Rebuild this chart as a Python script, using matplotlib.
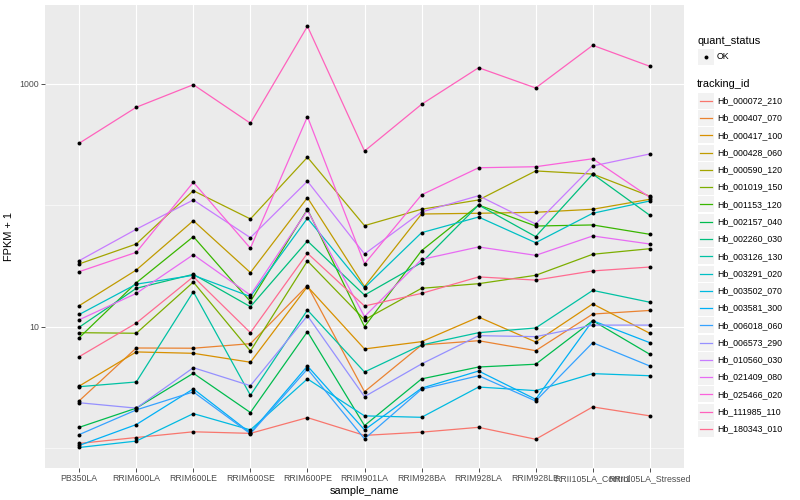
import matplotlib
matplotlib.use("Agg")
import matplotlib.pyplot as plt
from matplotlib.patches import Rectangle
import numpy as np

plt.rcParams['font.family'] = ['Liberation Sans', 'DejaVu Sans']

samples = ["PB350LA", "RRIM600LA", "RRIM600LE", "RRIM600SE", "RRIM600PE",
           "RRIM901LA", "RRIM928BA", "RRIM928LA", "RRIM928LE",
           "RRII105LA_Control", "RRII105LA_Stressed"]

tracking_ids = ["Hb_000072_210", "Hb_000407_070", "Hb_000417_100", "Hb_000428_060",
                "Hb_000590_120", "Hb_001019_150", "Hb_001153_120", "Hb_002157_040",
                "Hb_002260_030", "Hb_003126_130", "Hb_003291_020", "Hb_003502_070",
                "Hb_003581_300", "Hb_006018_060", "Hb_006573_290", "Hb_010560_030",
                "Hb_021409_080", "Hb_025466_020", "Hb_111985_110", "Hb_180343_010"]

# FPKM + 1 per sample (order of `samples`)
Hb_000072_210 = [1.09, 1.22, 1.36, 1.32, 1.78, 1.27, 1.35, 1.48, 1.18, 2.18, 1.84]
Hb_000407_070 = [2.45, 6.67, 6.64, 7.24, 21.8, 2.91, 7.06, 7.66, 6.34, 12.7, 13.6]
Hb_000417_100 = [3.24, 6.19, 6.03, 5.09, 21.4, 6.55, 7.52, 12.0, 7.48, 15.4, 8.82]
Hb_000428_060 = [14.9, 29.3, 74.7, 27.9, 115.6, 21.4, 84.8, 86.0, 87.6, 92.8, 112.1]
Hb_000590_120 = [32.9, 48.0, 132, 77.2, 249, 68.0, 92.8, 110.7, 192, 181, 119]
Hb_001019_150 = [8.92, 8.82, 23.3, 6.30, 34.8, 11.4, 20.7, 22.6, 26.5, 39.5, 43.9]
Hb_001153_120 = [8.11, 23.0, 55.2, 16.1, 92.8, 10.0, 42.3, 100.6, 67.5, 68.9, 57.7]
Hb_002157_040 = [1.48, 2.13, 4.13, 1.96, 9.09, 1.53, 3.71, 4.65, 4.90, 11.2, 5.92]
Hb_002260_030 = [9.9, 20.7, 27.0, 14.6, 50.8, 18.2, 33.7, 100.6, 55.2, 181, 82.8]
Hb_003126_130 = [3.20, 3.50, 19.4, 2.72, 13.7, 4.23, 7.06, 8.92, 9.75, 19.9, 15.9]
Hb_003291_020 = [12.6, 22.4, 26.5, 17.7, 78.2, 20.9, 59.5, 80.1, 49.2, 86.0, 108.6]
Hb_003502_070 = [1.01, 1.14, 1.92, 1.41, 3.71, 1.84, 1.79, 3.18, 2.97, 4.10, 3.94]
Hb_003581_300 = [1.05, 1.56, 3.07, 1.33, 4.74, 1.41, 3.11, 4.31, 2.52, 11.2, 7.38]
Hb_006018_060 = [1.29, 2.06, 2.90, 1.31, 4.48, 1.19, 3.05, 3.94, 2.44, 7.38, 4.74]
Hb_006573_290 = [2.36, 2.13, 4.59, 3.26, 12.3, 2.65, 4.93, 8.43, 8.27, 10.3, 10.3]
Hb_010560_030 = [35.0, 63.5, 110.7, 54.1, 158, 39.7, 88.1, 120, 70.2, 211, 265]
Hb_021409_080 = [11.4, 18.8, 39.2, 18.2, 91.0, 12.1, 35.8, 45.4, 38.7, 55.9, 48.0]
Hb_025466_020 = [28.4, 41.0, 155, 44.3, 538, 32.9, 122, 204, 208, 242, 116.5]
Hb_111985_110 = [325, 643, 987, 475, 2990, 280, 680, 1362, 927, 2084, 1399]
Hb_180343_010 = [5.66, 10.7, 25.8, 8.92, 40.3, 14.8, 18.8, 25.7, 24.2, 28.8, 31.0]

series_values = [Hb_000072_210, Hb_000407_070, Hb_000417_100, Hb_000428_060,
                 Hb_000590_120, Hb_001019_150, Hb_001153_120, Hb_002157_040,
                 Hb_002260_030, Hb_003126_130, Hb_003291_020, Hb_003502_070,
                 Hb_003581_300, Hb_006018_060, Hb_006573_290, Hb_010560_030,
                 Hb_021409_080, Hb_025466_020, Hb_111985_110, Hb_180343_010]

colors = ["#F8766D", "#EA8331", "#D89000", "#C09B00", "#A3A500", "#7CAE00",
          "#39B600", "#00BB4E", "#00BF7D", "#00C1A3", "#00BFC4", "#00BAE0",
          "#00B0F6", "#35A2FF", "#9590FF", "#C77CFF", "#E76BF3", "#FA62DB",
          "#FF62BC", "#FF6C91"]

fig = plt.figure(figsize=(8, 5), dpi=100)
ax = fig.add_axes([45/800, (500-468)/500, (684-45)/800, (468-5)/500])
ax.set_facecolor('#EBEBEB')
x = np.arange(len(samples))

for vals, col in zip(series_values, colors):
    ax.plot(x, vals, color=col, lw=0.9, zorder=3, solid_capstyle='butt')
for vals in series_values:
    ax.scatter(x, vals, s=8, color='black', zorder=4, linewidths=0)

ax.set_yscale('log')
ax.set_ylim(0.684, 4477)
ax.set_xlim(-0.6, 10.6)
ax.set_xticks(x)
ax.set_xticklabels(samples)
ax.set_yticks([10, 1000])
ax.set_yticklabels(['10', '1000'])
ax.set_yticks([1, 100], minor=True)
ax.yaxis.set_minor_formatter(matplotlib.ticker.NullFormatter())
ax.grid(which='major', color='white', lw=0.8, zorder=1)
ax.yaxis.grid(which='minor', color='white', lw=0.4, zorder=1)
ax.set_axisbelow(True)
for s in ax.spines.values():
    s.set_visible(False)
ax.tick_params(which='major', length=2.7, width=0.6, color='#333333',
               labelsize=6.3, labelcolor='#4D4D4D', pad=1.8)
ax.tick_params(which='minor', length=0)
ax.set_xlabel('sample_name', fontsize=7.9, labelpad=2)
ax.set_ylabel('FPKM + 1', fontsize=7.9, labelpad=4)

# legend drawn in pixel coordinates
lax = fig.add_axes([0, 0, 1, 1])
lax.set_xlim(0, 800)
lax.set_ylim(500, 0)
lax.axis('off')
lax.text(697, 40.7, 'quant_status', fontsize=7.9, va='center', ha='left')
lax.add_patch(Rectangle((697.5, 48.8), 16, 16, facecolor='#F2F2F2', edgecolor='none'))
lax.scatter([705.5], [56.8], s=8, color='black', linewidths=0)
lax.text(717, 56.8, 'OK', fontsize=6.3, va='center', ha='left')
lax.text(697, 84, 'tracking_id', fontsize=7.9, va='center', ha='left')
for i, (name, col) in enumerate(zip(tracking_ids, colors)):
    yc = 100.7 + i * 17.28
    lax.add_patch(Rectangle((697.5, yc - 8.0), 16, 16, facecolor='#F2F2F2', edgecolor='none'))
    lax.plot([699.5, 711.5], [yc, yc], color=col, lw=0.9)
    lax.text(717, yc, name, fontsize=6.3, va='center', ha='left')

fig.savefig('out.png', dpi=100)
